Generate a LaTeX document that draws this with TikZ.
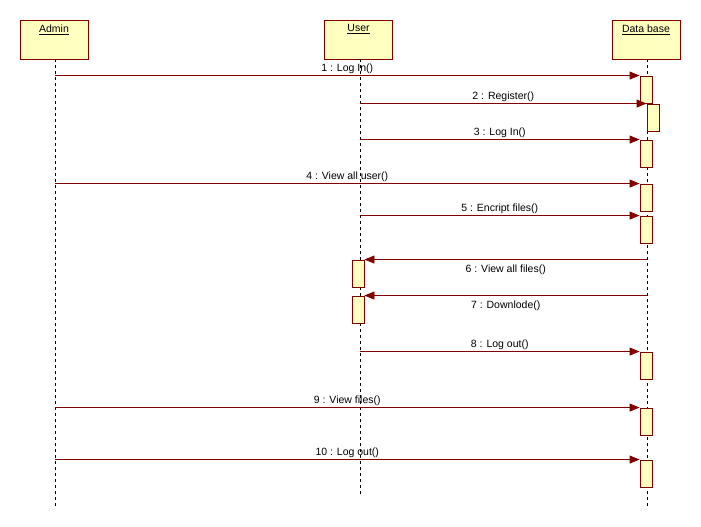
\documentclass[tikz,border=0pt]{standalone}
\usepackage{fontspec}
\setmainfont{Liberation Sans}
\usetikzlibrary{arrows.meta}
\definecolor{umlred}{HTML}{800000}
\definecolor{umlfill}{HTML}{FFFFC0}
\begin{document}
\begin{tikzpicture}[x=1pt,y=-1pt,
  head/.style={draw=umlred,fill=umlfill,line width=0.9pt,minimum width=68pt,minimum height=39pt,inner sep=0pt},
  headtxt/.style={anchor=north,inner sep=0pt,font=\fontsize{10.5}{12}\selectfont},
  act/.style={draw=umlred,fill=umlfill,line width=0.9pt,minimum width=12pt,minimum height=27pt,inner sep=0pt},
  life/.style={draw=black,line width=0.7pt,dash pattern=on 3pt off 3pt},
  msg/.style={draw=umlred,line width=0.9pt,-{Triangle[length=10pt,width=8pt]}},
  lbl/.style={font=\fontsize{10.5}{12}\selectfont,inner sep=1.5pt},
  lblb/.style={lbl,below,yshift=-3pt}]
\fill[white] (0,0) rectangle (701,527);
\useasboundingbox (0,0) rectangle (701,527);
% heads
\node[head] (admin) at (54,39.5) {};
\node[head] (user) at (358.5,39.5) {};
\node[head] (db) at (646,39.5) {};
\node[headtxt] (adminT) at ([yshift=-5pt]admin.north) {\underline{Admin}};
\node[headtxt] (userT) at ([yshift=-5pt]user.north) {\underline{User}};
\node[headtxt] (dbT) at ([yshift=-5pt]db.north) {\underline{Data base}};
% lifeline ends
\coordinate (adminE) at (55,507);
\coordinate (userE) at (360,495);
\coordinate (dbE) at (647,507);
\draw[life] (admin.south -| adminE) -- (adminE);
\draw[life] (user.south -| userE) -- (userE);
\draw[life] (db.south -| dbE) -- (dbE);
% activations
\node[act] (a1) at (646,89.5) {};
\node[act] (a2) at (653,117.5) {};
\node[act] (a3) at (646,153.5) {};
\node[act] (a4) at (646,197.5) {};
\node[act] (a5) at (646,229.5) {};
\node[act] (a6) at (358,273.5) {};
\node[act] (a7) at (358,309.5) {};
\node[act] (a8) at (646,365.5) {};
\node[act] (a9) at (646,421.5) {};
\node[act] (a10) at (646,473.5) {};
% messages
\draw[msg] (adminE |- a1.north west) -- node[lbl,above] (m1) {1 : Log In()} (a1.north west);
\draw[msg] (userE |- a2.north west) -- node[lbl,above] (m2) {2 : Register()} (a2.north west);
\draw[msg] (userE |- a3.north west) -- node[lbl,above] (m3) {3 : Log In()} (a3.north west);
\draw[msg] (adminE |- a4.north west) -- node[lbl,above] (m4) {4 : View all user()} (a4.north west);
\draw[msg] (userE |- a5.north west) -- node[lbl,above] (m5) {5 : Encript files()} (a5.north west);
\draw[msg] (dbE |- a6.north east) -- node[lblb] (m6) {6 : View all files()} (a6.north east);
\draw[msg] (dbE |- a7.north east) -- node[lblb] (m7) {7 : Downlode()} (a7.north east);
\draw[msg] (userE |- a8.north west) -- node[lbl,above] (m8) {8 : Log out()} (a8.north west);
\draw[msg] (adminE |- a9.north west) -- node[lbl,above] (m9) {9 : View files()} (a9.north west);
\draw[msg] (adminE |- a10.north west) -- node[lbl,above] (m10) {10 : Log out()} (a10.north west);
\end{tikzpicture}
\end{document}
